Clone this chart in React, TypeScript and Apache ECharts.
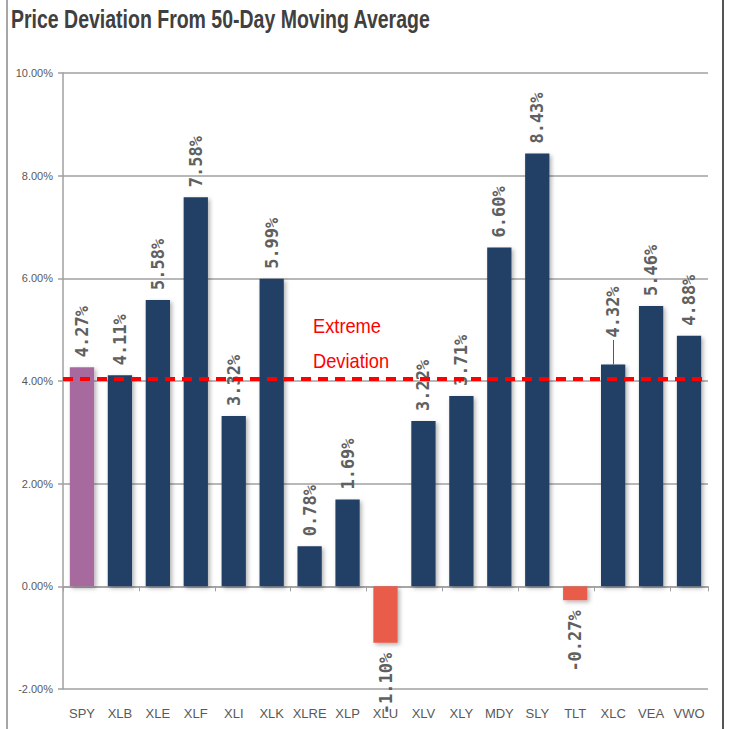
import React, { useEffect, useRef } from "react";
import * as echarts from "echarts";

const categories = ["SPY", "XLB", "XLE", "XLF", "XLI", "XLK", "XLRE", "XLP", "XLU", "XLV", "XLY", "MDY", "SLY", "TLT", "XLC", "VEA", "VWO"];
const values = [4.27, 4.11, 5.58, 7.58, 3.32, 5.99, 0.78, 1.69, -1.1, 3.22, 3.71, 6.6, 8.43, -0.27, 4.32, 5.46, 4.88];
const extremeLevel = 4.05;
const yMin = -2;
const yMax = 10;
const yStep = 2;
const titleText = "Price Deviation From 50-Day Moving Average";
const annotationLines = ["Extreme", "Deviation"];
const leaderCategory = "XLC";
const leaderTop = 4.8;

const NAVY = "#243f66";
const PURPLE = "#a66b9f";
const CORAL = "#e85c4a";
const SANS = "'Liberation Sans', Arial, sans-serif";

export default function App() {
  const ref = useRef<HTMLDivElement>(null);
  useEffect(() => {
    const chart = echarts.init(ref.current!, undefined, { renderer: "svg" });
    const data = values.map((v, i) => {
      const cat = categories[i];
      const color = cat === "SPY" ? PURPLE : v < 0 ? CORAL : NAVY;
      return {
        value: v,
        itemStyle: { color },
        label: v < 0
          ? { position: "bottom", align: "right", distance: 10 }
          : { position: "top", align: "left", distance: cat === leaderCategory ? 27 : 10 },
      };
    });
    chart.setOption({
      animation: false,
      backgroundColor: "#ffffff",
      grid: { left: 63, right: 23, top: 73, bottom: 40 },
      graphic: [
        { type: "line", shape: { x1: 7, y1: 0, x2: 7, y2: 729 }, style: { stroke: "#a6a6a6", lineWidth: 2 } },
        { type: "line", shape: { x1: 723, y1: 0, x2: 723, y2: 729 }, style: { stroke: "#555555", lineWidth: 2 } },
        {
          type: "text", x: 11, y: 7, scaleX: 0.78,
          style: { text: titleText, fontFamily: SANS, fontWeight: "bold", fontSize: 25, fill: "#404040" },
        },
        {
          type: "text", x: 313, y: 315, scaleX: 0.87,
          style: { text: annotationLines[0], fontFamily: SANS, fontSize: 21, fill: "#ff0000" },
        },
        {
          type: "text", x: 313, y: 350, scaleX: 0.87,
          style: { text: annotationLines[1], fontFamily: SANS, fontSize: 21, fill: "#ff0000" },
        },
      ],
      xAxis: [
        {
          type: "category",
          data: categories,
          position: "bottom",
          axisLine: { show: false, onZero: false },
          axisTick: { show: false },
          axisLabel: { color: "#595959", fontFamily: SANS, fontSize: 13, margin: 18, interval: 0 },
        },
        {
          type: "category",
          data: categories,
          position: "bottom",
          axisLine: { show: true, onZero: true, lineStyle: { color: "#a0a0a0", width: 1.5 } },
          axisTick: { show: true, length: 5, lineStyle: { color: "#a0a0a0" } },
          axisLabel: { show: false },
        },
      ],
      yAxis: {
        type: "value",
        min: yMin,
        max: yMax,
        interval: yStep,
        axisLine: { show: true, lineStyle: { color: "#a0a0a0", width: 1.5 } },
        axisTick: { show: true, length: 5, lineStyle: { color: "#a0a0a0", width: 1.5 } },
        splitLine: { lineStyle: { color: "#a0a0a0", width: 1.5 } },
        axisLabel: {
          color: "#595959", fontFamily: SANS, fontSize: 11, margin: 10,
          formatter: (v: number) => `${v.toFixed(2)}%`,
        },
      },
      series: [
        {
          type: "bar",
          xAxisIndex: 0,
          data,
          barCategoryGap: "36%",
          itemStyle: { shadowBlur: 4, shadowOffsetX: 2, shadowOffsetY: 2, shadowColor: "rgba(0,0,0,0.3)" },
          label: {
            show: true,
            rotate: 90,
            verticalAlign: "middle",
            color: "#606060",
            fontFamily: "'DejaVu Sans Mono', monospace",
            fontWeight: "bold",
            fontSize: 17,
            formatter: (p: any) => `${p.value.toFixed(2)}%`,
          },
          markLine: {
            silent: true,
            symbol: "none",
            label: { show: false },
            data: [
              { yAxis: extremeLevel, lineStyle: { color: "#ff0000", type: [10, 7], width: 4 } },
              [
                { coord: [leaderCategory, values[categories.indexOf(leaderCategory)]], lineStyle: { color: "#595959", type: "solid", width: 1 } },
                { coord: [leaderCategory, leaderTop] },
              ],
            ],
          },
        },
      ],
    });
    return () => chart.dispose();
  }, []);
  return <div ref={ref} style={{ width: 731, height: 729, position: "absolute", left: 0, top: 0 }} />;
}
